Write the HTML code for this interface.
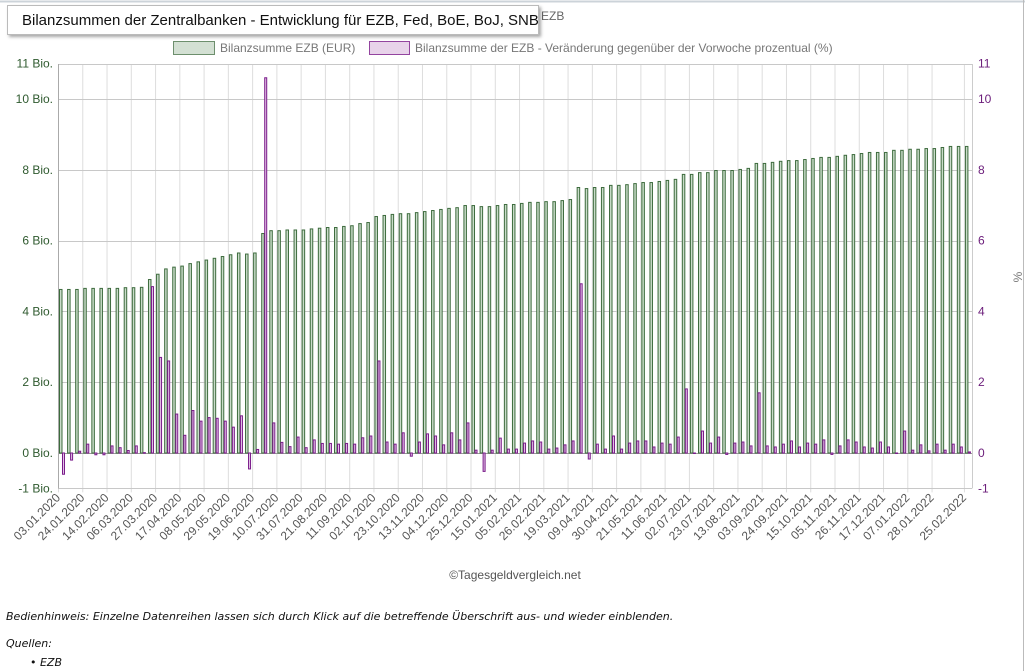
<!DOCTYPE html>
<html><head><meta charset="utf-8">
<style>
body{margin:0;width:1025px;height:671px;overflow:hidden;background:#fff;font-family:"Liberation Sans",sans-serif;position:relative}
#title{position:absolute;left:7px;top:5px;width:532px;height:30px;background:#fff;border:1px solid #bbb;box-shadow:2px 2px 3px rgba(0,0,0,.35);font-size:15px;line-height:30px;padding-left:14px;box-sizing:border-box;color:#111;white-space:nowrap;overflow:hidden}
.foot{position:absolute;font-style:italic;font-size:11px;color:#111;font-family:"DejaVu Sans",sans-serif}
</style></head><body>
<svg id="chart" width="1025" height="671" style="position:absolute;left:0;top:0" font-family="Liberation Sans, sans-serif"></svg>
<div id="title">Bilanzsummen der Zentralbanken - Entwicklung für EZB, Fed, BoE, BoJ, SNB</div>
<div class="foot" style="left:6px;top:610px">Bedienhinweis: Einzelne Datenreihen lassen sich durch Klick auf die betreffende Überschrift aus- und wieder einblenden.</div>
<div class="foot" style="left:6px;top:637px">Quellen:</div>
<div class="foot" style="left:30px;top:656px">• EZB</div>
<script>
const greenValues=[4.62,4.62,4.62,4.65,4.65,4.65,4.65,4.65,4.67,4.67,4.68,
4.9,5.05,5.2,5.25,5.28,5.35,5.4,5.45,5.5,5.55,5.6,5.65,5.62,5.65,
6.2,6.28,6.28,6.3,6.3,6.3,6.33,6.35,6.37,6.37,6.4,6.42,
6.48,6.51,6.68,6.71,6.74,6.76,6.76,6.79,6.82,6.85,6.88,6.91,6.93,6.99,6.99,6.96,6.96,6.99,7.02,7.02,7.05,7.08,7.08,7.1,7.1,7.13,7.16,7.5,7.47,7.5,7.5,7.56,7.56,7.58,7.61,7.64,7.64,
7.67,7.7,7.73,7.87,7.87,7.92,7.92,7.98,7.98,7.98,8.01,8.04,8.18,8.18,8.21,8.24,8.26,8.26,8.29,8.32,8.35,8.35,8.38,8.41,8.43,8.46,8.49,8.49,8.49,8.55,8.55,8.58,8.58,8.6,8.6,8.63,8.66,8.66,8.66];
const purpleValues=[-0.6,-0.2,0.05,0.25,-0.05,-0.05,0.2,0.15,0.07,0.2,0.01,
4.7,2.7,2.6,1.1,0.5,1.2,0.9,1.0,0.98,0.9,0.73,1.05,-0.45,0.1,
10.6,0.85,0.3,0.18,0.45,0.15,0.37,0.27,0.27,0.25,0.27,0.25,
0.43,0.48,2.6,0.31,0.25,0.57,-0.09,0.31,0.54,0.48,0.23,0.57,0.37,0.85,0.08,-0.52,0.08,0.42,0.11,0.11,0.28,0.34,0.31,0.11,0.14,0.23,0.34,4.78,-0.17,0.25,0.11,0.48,0.11,0.28,0.34,0.34,0.17,
0.28,0.25,0.45,1.81,0,0.62,0.28,0.45,-0.04,0.28,0.31,0.2,1.7,0.2,0.17,0.25,0.34,0.17,0.28,0.25,0.37,-0.04,0.2,0.37,0.31,0.17,0.14,0.31,0.17,0,0.62,0.08,0.23,0.06,0.25,0.08,0.25,0.17,0.03];
const xLabels=["03.01.2020","24.01.2020","14.02.2020","06.03.2020","27.03.2020","17.04.2020","08.05.2020","29.05.2020","19.06.2020","10.07.2020","31.07.2020","21.08.2020","11.09.2020","02.10.2020","23.10.2020","13.11.2020","04.12.2020","25.12.2020","15.01.2021","05.02.2021","26.02.2021","19.03.2021","09.04.2021","30.04.2021","21.05.2021","11.06.2021","02.07.2021","23.07.2021","13.08.2021","03.09.2021","24.09.2021","15.10.2021","05.11.2021","26.11.2021","17.12.2021","07.01.2022","28.01.2022","25.02.2022"];
const labelIdx=[0,3,6,9,12,15,18,21,24,27,30,33,36,39,42,45,48,51,54,57,60,63,66,69,72,75,78,81,84,87,90,93,96,99,102,105,108,112];
const leftTicks=[11,10,8,6,4,2,0,-1];
const leftTickLabels=["11 Bio.","10 Bio.","8 Bio.","6 Bio.","4 Bio.","2 Bio.","0 Bio.","-1 Bio."];
const rightTicks=[11,10,8,6,4,2,0,-1];

const svg=document.getElementById('chart');
const NS='http://www.w3.org/2000/svg';
const X0=58,X1=972,slot=(X1-X0)/113;
const Y0=453,unit=35.4;
const x=i=>X0+i*slot;
const y=v=>Y0-v*unit;
function mk(tag,attrs,parent){const e=document.createElementNS(NS,tag);for(const k in attrs)e.setAttribute(k,attrs[k]);(parent||svg).appendChild(e);return e;}
let f=mk('line',{x1:0,y1:1.5,x2:1025,y2:1.5,stroke:'#ccd3d9','stroke-width':2});


f=mk('line',{x1:1023.5,y1:0,x2:1023.5,y2:671,stroke:'#bbb','stroke-width':1});


let t=mk('text',{x:541,y:20,'font-size':12,fill:'#666'});t.textContent='EZB';


labelIdx.forEach(i=>{const g=mk('line',{x1:x(i)+.5,y1:64,x2:x(i)+.5,y2:y(-1)+4,stroke:'#ddd'});

});
leftTicks.forEach((v,k)=>{const g=mk('line',{x1:X0,y1:Math.round(y(v))+.5,x2:X1,y2:Math.round(y(v))+.5,stroke:v===0?'#999':'#c8c8c8'});


const l=mk('text',{x:X0-5,y:y(v)+4,'font-size':12,fill:'#2f5a2f','text-anchor':'end'});l.textContent=leftTickLabels[k];

});
rightTicks.forEach(v=>{const l=mk('text',{x:X1+6,y:y(v)+4,'font-size':12,fill:'#6b1d7a'});l.textContent=String(v);

});
let ax=mk('line',{x1:X0+.5,y1:64,x2:X0+.5,y2:y(-1),stroke:'#aaa'});


ax=mk('line',{x1:X1+.5,y1:64,x2:X1+.5,y2:y(-1),stroke:'#ccc'});


let pt=mk('text',{x:0,y:0,'font-size':12,fill:'#777',transform:'translate(1022,277) rotate(-90)','text-anchor':'middle'});pt.textContent='%';


greenValues.forEach((v,i)=>{const b=mk('rect',{x:x(i)+1.5,y:Math.min(y(v),Y0),width:2.5,height:Math.abs(y(v)-Y0),fill:'#c9dcc9',stroke:'#3d6b3d','stroke-width':1});

});
purpleValues.forEach((v,i)=>{const b=mk('rect',{x:x(i)+4.5,y:Math.min(y(v),Y0),width:2,height:Math.max(Math.abs(y(v)-Y0),.5),fill:'#e2c4e6',stroke:'#7a1b8a','stroke-width':1});

});
labelIdx.forEach((i,k)=>{const l=mk('text',{x:0,y:0,'font-size':12,fill:'#555','text-anchor':'end',transform:`translate(${x(i)+3},${y(-1)+10}) rotate(-45)`});l.textContent=xLabels[k];

});
let lg=mk('g',{});

mk('rect',{x:173.5,y:41.5,width:41,height:13,fill:'#d3e0d3',stroke:'#6d8f6d'},lg);
let lt=mk('text',{x:220,y:52,'font-size':12,fill:'#777'},lg);lt.textContent='Bilanzsumme EZB (EUR)';
lg=mk('g',{});

mk('rect',{x:369.5,y:41.5,width:40,height:13,fill:'#e8d3ea',stroke:'#93449f'},lg);
lt=mk('text',{x:415,y:52,'font-size':12,fill:'#777'},lg);lt.textContent='Bilanzsumme der EZB - Veränderung gegenüber der Vorwoche prozentual (%)';
let cr=mk('text',{x:515,y:579,'font-size':12,fill:'#555','text-anchor':'middle'});cr.textContent='©Tagesgeldvergleich.net';


</script>
</body></html>
